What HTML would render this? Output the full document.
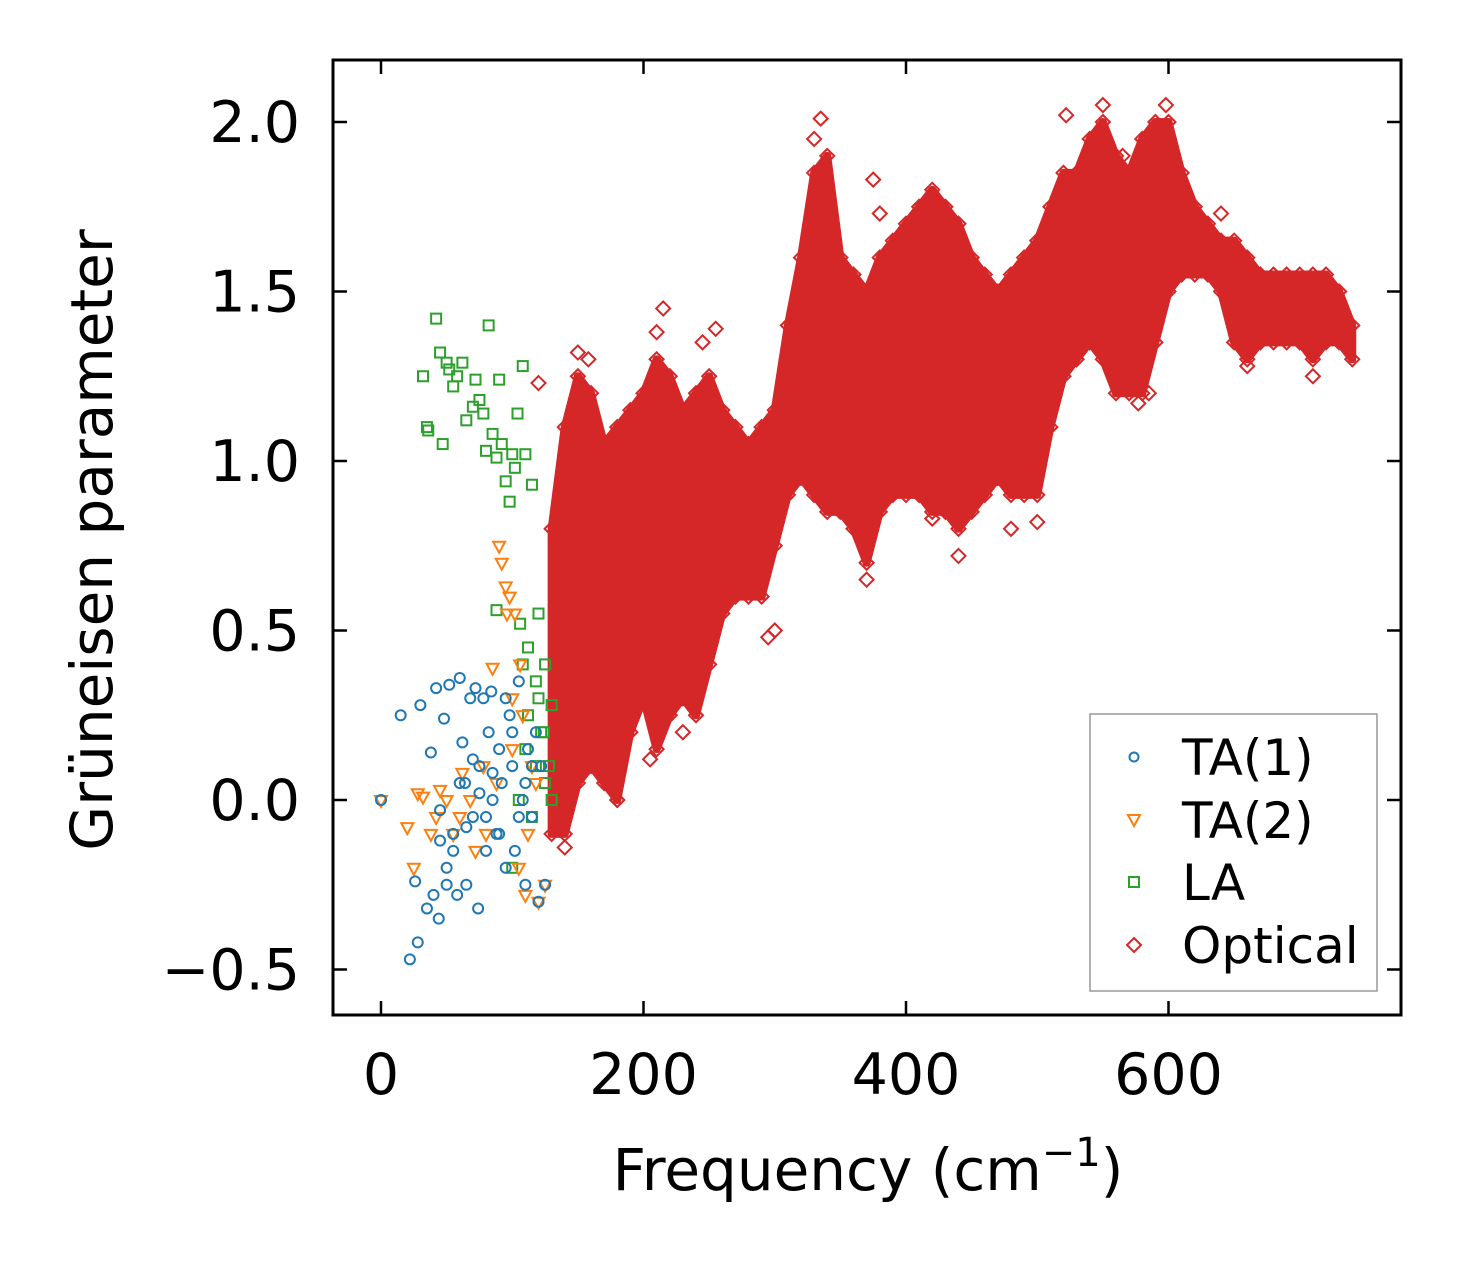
<!DOCTYPE html>
<html><head><meta charset="utf-8"><style>
body{margin:0;background:#fff}
svg text{font-family:"DejaVu Sans","Liberation Sans",sans-serif;fill:#000}
</style></head><body>
<svg id="chart" width="1462" height="1264" viewBox="0 0 1462 1264" xmlns="http://www.w3.org/2000/svg">
<rect width="1462" height="1264" fill="#fff"/>
<g id="marks"></g>
<rect x="333" y="60" width="1068" height="955" fill="none" stroke="#000" stroke-width="3"/>
<g id="ticks"></g>
<text x="868" y="1190" font-size="58" text-anchor="middle">Frequency (cm<tspan font-size="40" dy="-24">−1</tspan><tspan dy="24">)</tspan></text>
<text transform="translate(112,540) rotate(-90)" font-size="58" text-anchor="middle">Grüneisen parameter</text>
<g>
<rect x="1090" y="714" width="287" height="277" fill="#fff" stroke="#999" stroke-width="1.5"/>
<circle cx="1134" cy="757" r="4.5" fill="none" stroke="#1f77b4" stroke-width="2"/>
<text x="1182" y="775" font-size="50">TA(1)</text>
<path d="M1128,815 L1140,815 L1134,826 Z" fill="none" stroke="#ff7f0e" stroke-width="2"/>
<text x="1182" y="838" font-size="50">TA(2)</text>
<rect x="1129" y="877" width="10" height="10" fill="none" stroke="#2ca02c" stroke-width="2"/>
<text x="1182" y="900" font-size="50">LA</text>
<path d="M1134,938 L1141,945 L1134,952 L1127,945 Z" fill="none" stroke="#d62728" stroke-width="2"/>
<text x="1182" y="963" font-size="50">Optical</text>
</g>
</svg>
<script>
const xTicks=[0,200,400,600];
const yTicks=[-0.5,0,0.5,1.0,1.5,2.0];
const yTickLabels=["−0.5","0.0","0.5","1.0","1.5","2.0"];
const optFreq=[130,140,150,160,170,180,190,200,210,220,230,240,250,260,270,280,290,300,310,320,330,340,350,360,370,380,390,400,410,420,430,440,450,460,470,480,490,500,510,520,530,540,550,560,570,580,590,600,610,620,630,640,650,660,670,680,690,700,710,720,730,740];
const optLow=[-0.1,-0.1,0.05,0.1,0.05,0.0,0.2,0.3,0.15,0.25,0.3,0.25,0.4,0.55,0.6,0.6,0.6,0.75,0.9,0.95,0.9,0.85,0.85,0.8,0.7,0.85,0.9,0.9,0.9,0.85,0.85,0.8,0.85,0.9,0.95,0.9,0.9,0.9,1.1,1.25,1.3,1.35,1.3,1.2,1.2,1.2,1.35,1.5,1.55,1.55,1.55,1.5,1.35,1.3,1.35,1.35,1.35,1.35,1.3,1.35,1.35,1.3];
const optHigh=[0.8,1.1,1.25,1.2,1.05,1.1,1.15,1.2,1.3,1.25,1.15,1.2,1.25,1.15,1.1,1.05,1.1,1.15,1.4,1.6,1.85,1.9,1.6,1.55,1.5,1.6,1.65,1.7,1.75,1.8,1.75,1.7,1.6,1.55,1.5,1.55,1.6,1.65,1.75,1.85,1.85,1.95,2.0,1.9,1.85,1.95,2.0,2.0,1.85,1.75,1.7,1.65,1.65,1.6,1.55,1.55,1.55,1.55,1.55,1.55,1.5,1.4];
const optOutX=[335,375,550,522,598,215,255,300,295,370,440,480,500,710,577,640,120,140,205,230,180,150,158,380,420,660,210,245,330,565,585];
const optOutY=[2.01,1.83,2.05,2.02,2.05,1.45,1.39,0.5,0.48,0.65,0.72,0.8,0.82,1.25,1.17,1.73,1.23,-0.14,0.12,0.2,0.0,1.32,1.3,1.73,0.83,1.28,1.38,1.35,1.95,1.9,1.2];
const ta1X=[0,15,22,26,28,30,35,38,40,42,44,45,48,50,52,55,58,60,62,64,65,68,70,72,74,75,78,80,82,84,85,88,90,92,95,98,100,102,105,108,110,112,115,118,120,122,125,60,70,80,90,100,110,55,65,75,85,95,105,115,45,50];
const ta1Y=[0,0.25,-0.47,-0.24,-0.42,0.28,-0.32,0.14,-0.28,0.33,-0.35,-0.03,0.24,-0.25,0.34,-0.1,-0.28,0.36,0.17,0.05,-0.25,0.3,-0.05,0.33,-0.32,0.1,0.3,-0.15,0.2,0.32,0.0,-0.1,0.15,0.05,-0.2,0.25,0.1,-0.15,0.35,0.0,-0.25,0.15,-0.05,0.2,-0.3,0.1,-0.25,0.05,0.12,-0.05,-0.1,0.2,0.05,-0.15,-0.08,0.02,0.08,0.3,-0.05,0.1,-0.12,-0.2];
const ta2X=[0,20,25,28,32,38,42,45,50,55,60,62,68,72,78,80,85,88,90,95,98,100,102,105,108,110,112,115,118,120,125,92,96,100,106];
const ta2Y=[0,-0.08,-0.2,0.02,0.01,-0.1,-0.05,0.03,0.0,-0.1,-0.05,0.08,0.0,-0.15,0.1,-0.1,0.39,0.05,0.75,0.63,0.6,0.15,0.55,-0.2,0.25,-0.28,-0.1,0.1,0.05,-0.3,-0.25,0.7,0.55,0.3,0.4];
const laX=[32,35,36,42,45,47,50,52,55,58,62,65,70,72,75,78,80,82,85,88,90,92,95,98,100,102,104,106,108,110,112,115,118,120,122,125,128,130,105,110,115,120,125,100,108,112,118,124,130,88];
const laY=[1.25,1.1,1.09,1.42,1.32,1.05,1.29,1.27,1.22,1.25,1.29,1.12,1.16,1.24,1.18,1.14,1.03,1.4,1.08,1.01,1.24,1.05,0.94,0.88,1.02,0.98,1.14,0.52,1.28,1.02,0.45,0.93,0.35,0.55,0.2,0.4,0.1,0.28,0.0,0.15,-0.05,0.3,0.05,-0.2,0.4,0.25,0.1,0.2,0.0,0.56];

const sx=v=>381+v*1.3125;
const sy=v=>800-v*339;
const NS="http://www.w3.org/2000/svg";
const marks=document.getElementById('marks');
const ticks=document.getElementById('ticks');
function mk(tag,attrs,parent){const e=document.createElementNS(NS,tag);for(const k in attrs)e.setAttribute(k,attrs[k]);parent.appendChild(e);return e;}

let pts=[];
for(let i=0;i<optFreq.length;i++)pts.push(sx(optFreq[i])+","+sy(optHigh[i]));
for(let i=optFreq.length-1;i>=0;i--)pts.push(sx(optFreq[i])+","+sy(optLow[i]));
const band=mk('polygon',{points:pts.join(' '),fill:'#d62728',stroke:'#d62728','stroke-width':8,'stroke-linejoin':'round'},marks);


function diamond(x,y,name){const d=mk('path',{d:`M${x},${y-7} L${x+7},${y} L${x},${y+7} L${x-7},${y} Z`,fill:'none',stroke:'#d62728','stroke-width':2},marks);

}
for(let i=0;i<optFreq.length;i++){diamond(sx(optFreq[i]),sy(optHigh[i]),'optical-point');diamond(sx(optFreq[i]),sy(optLow[i]),'optical-point');}
for(let i=0;i<optOutX.length;i++)diamond(sx(optOutX[i]),sy(optOutY[i]),'optical-point');
for(let i=0;i<laX.length;i++){const x=sx(laX[i]),y=sy(laY[i]);const r=mk('rect',{x:x-5,y:y-5,width:10,height:10,fill:'none',stroke:'#2ca02c','stroke-width':2},marks);

}
for(let i=0;i<ta2X.length;i++){const x=sx(ta2X[i]),y=sy(ta2Y[i]);const t=mk('path',{d:`M${x-6},${y-4} L${x+6},${y-4} L${x},${y+7} Z`,fill:'none',stroke:'#ff7f0e','stroke-width':2},marks);

}
for(let i=0;i<ta1X.length;i++){const c=mk('circle',{cx:sx(ta1X[i]),cy:sy(ta1Y[i]),r:5,fill:'none',stroke:'#1f77b4','stroke-width':2},marks);

}

xTicks.forEach(v=>{const x=sx(v);
mk('line',{x1:x,y1:1015,x2:x,y2:1001,stroke:'#000','stroke-width':2.5},ticks);
mk('line',{x1:x,y1:60,x2:x,y2:74,stroke:'#000','stroke-width':2.5},ticks);
const t=mk('text',{x:x,y:1094,'font-size':57,'text-anchor':'middle'},ticks);t.textContent=String(v);

});
yTicks.forEach((v,i)=>{const y=sy(v);
mk('line',{x1:333,y1:y,x2:347,y2:y,stroke:'#000','stroke-width':2.5},ticks);
mk('line',{x1:1401,y1:y,x2:1387,y2:y,stroke:'#000','stroke-width':2.5},ticks);
const t=mk('text',{x:300,y:y+20,'font-size':57,'text-anchor':'end'},ticks);t.textContent=yTickLabels[i];

});
</script>
</body></html>
